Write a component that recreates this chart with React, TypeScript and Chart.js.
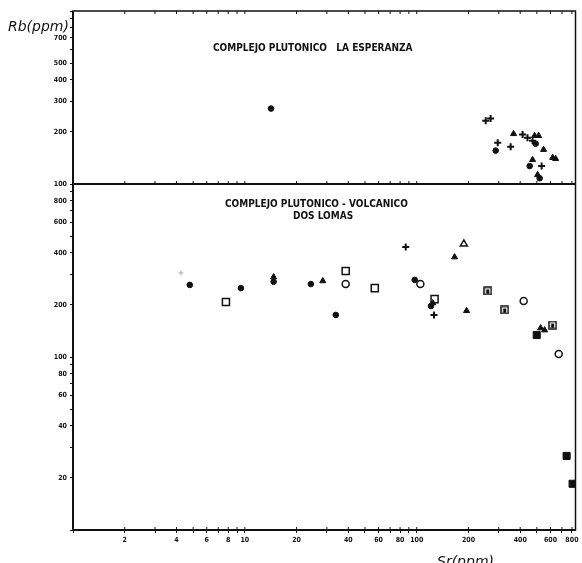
import React, { useEffect, useRef } from 'react';
import { Chart, registerables } from 'chart.js';

Chart.register(...registerables);

// Axis ticks
const xTickValues = [1, 2, 3, 4, 5, 6, 7, 8, 9, 10, 20, 30, 40, 50, 60, 70, 80, 90, 100, 200, 300, 400, 500, 600, 700, 800];
const xTickLabels = [2, 4, 6, 8, 10, 20, 40, 60, 80, 100, 200, 400, 600, 800];
const topTickValues = [100, 200, 300, 400, 500, 600, 700, 800, 900, 1000];
const topTickLabels = [100, 200, 300, 400, 500, 700];
const botTickValues = [10, 20, 30, 40, 50, 60, 70, 80, 90, 100, 200, 300, 400, 500, 600, 700, 800, 900];
const botTickLabels = [20, 40, 60, 80, 100, 200, 400, 600, 800];

// Panel 1: Complejo Plutonico La Esperanza
const esperanzaPlusSr = [252, 269, 296, 352, 413, 441, 472, 533];
const esperanzaPlusRb = [232, 239, 173, 164, 193, 185, 178, 127];
const esperanzaTriSr = [366, 485, 512, 547, 618, 643, 505, 472];
const esperanzaTriRb = [195, 190, 190, 158, 142, 140, 113, 138];
const esperanzaDotSr = [14.2, 288, 492, 454, 519];
const esperanzaDotRb = [273, 156, 171, 127, 108];

// Panel 2: Complejo Plutonico-Volcanico Dos Lomas
const lomasDotSr = [4.78, 9.48, 14.7, 24.2, 33.8, 97.3, 121];
const lomasDotRb = [261, 250, 272, 264, 175, 279, 197];
const lomasTriSr = [14.7, 28.4, 166, 195, 124, 526, 555];
const lomasTriRb = [290, 275, 378, 185, 205, 147, 143];
const lomasOpenTriSr = [188];
const lomasOpenTriRb = [450];
const lomasOpenSquareSr = [7.76, 38.6, 57, 127];
const lomasOpenSquareRb = [208, 314, 250, 216];
const lomasOpenCircleSr = [38.6, 105, 419, 670];
const lomasOpenCircleRb = [264, 264, 211, 104];
const lomasPlusSr = [86.3, 126];
const lomasPlusRb = [432, 175];
const lomasFaintSr = [4.25];
const lomasFaintRb = [306];
const lomasBoxedSr = [259, 325, 618];
const lomasBoxedRb = [241, 187, 153];
const lomasFilledSquareSr = [499, 745, 807];
const lomasFilledSquareRb = [134, 26.8, 18.5];

const pts = (xs: number[], ys: number[]) => xs.map((x, i) => ({ x, y: ys[i] }));

function makeBoxedMarker() {
  const c = document.createElement('canvas');
  c.width = 9;
  c.height = 9;
  const g = c.getContext('2d')!;
  g.strokeStyle = '#111';
  g.lineWidth = 1.5;
  g.strokeRect(1, 1, 7, 7);
  g.fillStyle = '#111';
  g.fillRect(3, 3, 3, 4);
  return c;
}

const tickFont = { family: '"DejaVu Sans Condensed", "DejaVu Sans", sans-serif', size: 7, weight: 'bold' as const };

const framePlugin = {
  id: 'frame',
  afterDraw(chart: any) {
    const { ctx, chartArea, scales } = chart;
    const { left, right, top, bottom } = chartArea;
    const divY = scales.yT.bottom;
    ctx.save();
    ctx.strokeStyle = '#111';
    ctx.lineWidth = 1.5;
    ctx.strokeRect(left, top, right - left, bottom - top);
    ctx.lineWidth = 2;
    ctx.beginPath();
    ctx.moveTo(left, divY);
    ctx.lineTo(right, divY);
    ctx.moveTo(left, top);
    ctx.lineTo(left, bottom);
    ctx.moveTo(left, bottom);
    ctx.lineTo(right, bottom);
    ctx.stroke();
    ctx.lineWidth = 1;
    ctx.beginPath();
    for (const v of xTickValues) {
      const px = scales.x.getPixelForValue(v);
      ctx.moveTo(px, top);
      ctx.lineTo(px, top + 3);
      ctx.moveTo(px, divY);
      ctx.lineTo(px, divY - 3);
      ctx.moveTo(px, bottom);
      ctx.lineTo(px, bottom - 3);
    }
    ctx.stroke();

    ctx.fillStyle = '#111';
    ctx.textBaseline = 'alphabetic';
    ctx.textAlign = 'left';
    ctx.font = 'bold 10px "DejaVu Sans Condensed", "DejaVu Sans", sans-serif';
    ctx.fillText('COMPLEJO PLUTONICO   LA ESPERANZA', left + 140, top + 40);
    ctx.fillText('COMPLEJO PLUTONICO - VOLCANICO', left + 152, divY + 23);
    ctx.fillText('DOS LOMAS', left + 220, divY + 35);

    ctx.font = 'italic 14px "DejaVu Sans", sans-serif';
    ctx.fillText('Rb(ppm)', 8, 31);
    ctx.fillText('Sr(ppm)', 437, 566);
    ctx.restore();
  },
};

export default function App() {
  const ref = useRef<HTMLCanvasElement>(null);

  useEffect(() => {
    const boxed = makeBoxedMarker();
    const black = '#111';
    const chart = new Chart(ref.current!, {
      type: 'scatter',
      data: {
        datasets: [
          { data: pts(esperanzaPlusSr, esperanzaPlusRb), yAxisID: 'yT', pointStyle: 'cross', pointRadius: 3.5, borderColor: black, borderWidth: 2 },
          { data: pts(esperanzaTriSr, esperanzaTriRb), yAxisID: 'yT', pointStyle: 'triangle', pointRadius: 3.5, borderColor: black, backgroundColor: black, borderWidth: 1 },
          { data: pts(esperanzaDotSr, esperanzaDotRb), yAxisID: 'yT', pointStyle: 'circle', pointRadius: 2.8, borderColor: black, backgroundColor: black, borderWidth: 1 },
          { data: pts(lomasDotSr, lomasDotRb), yAxisID: 'yB', pointStyle: 'circle', pointRadius: 2.8, borderColor: black, backgroundColor: black, borderWidth: 1 },
          { data: pts(lomasTriSr, lomasTriRb), yAxisID: 'yB', pointStyle: 'triangle', pointRadius: 3.5, borderColor: black, backgroundColor: black, borderWidth: 1 },
          { data: pts(lomasOpenTriSr, lomasOpenTriRb), yAxisID: 'yB', pointStyle: 'triangle', pointRadius: 4, borderColor: black, backgroundColor: '#fff', borderWidth: 1.5 },
          { data: pts(lomasOpenSquareSr, lomasOpenSquareRb), yAxisID: 'yB', pointStyle: 'rect', pointRadius: 5, borderColor: black, backgroundColor: '#fff', borderWidth: 1.5 },
          { data: pts(lomasOpenCircleSr, lomasOpenCircleRb), yAxisID: 'yB', pointStyle: 'circle', pointRadius: 3.5, borderColor: black, backgroundColor: '#fff', borderWidth: 1.5 },
          { data: pts(lomasPlusSr, lomasPlusRb), yAxisID: 'yB', pointStyle: 'cross', pointRadius: 3.5, borderColor: black, borderWidth: 2 },
          { data: pts(lomasFaintSr, lomasFaintRb), yAxisID: 'yB', pointStyle: 'cross', pointRadius: 2.5, borderColor: '#aaa', borderWidth: 1 },
          { data: pts(lomasBoxedSr, lomasBoxedRb), yAxisID: 'yB', pointStyle: boxed as any, pointRadius: 4 },
          { data: pts(lomasFilledSquareSr, lomasFilledSquareRb), yAxisID: 'yB', pointStyle: 'rect', pointRadius: 5, borderColor: black, backgroundColor: black, borderWidth: 1 },
        ],
      },
      options: {
        responsive: false,
        animation: false,
        layout: { padding: { top: 11, right: 4, left: 0, bottom: 0 } },
        plugins: { legend: { display: false }, tooltip: { enabled: false } },
        scales: {
          x: {
            type: 'logarithmic',
            min: 1,
            max: 839,
            position: 'bottom',
            afterBuildTicks: (s: any) => { s.ticks = xTickValues.map((v) => ({ value: v })); },
            afterFit: (s: any) => { s.height = 33; s.paddingLeft = 0; s.paddingRight = 0; },
            ticks: {
              autoSkip: false,
              maxRotation: 0,
              minRotation: 0,
              padding: 3,
              color: '#111',
              font: tickFont,
              callback: (v: any) => (xTickLabels.includes(Number(v)) ? String(v) : ''),
            },
            grid: { drawOnChartArea: false, tickLength: 3, color: '#111' },
            border: { display: false },
          },
          yB: {
            type: 'logarithmic',
            min: 10,
            max: 1000,
            position: 'left',
            stack: 'rb',
            stackWeight: 2,
            afterBuildTicks: (s: any) => { s.ticks = botTickValues.map((v) => ({ value: v })); },
            afterFit: (s: any) => { s.width = 73; s.paddingTop = 0; s.paddingBottom = 0; },
            ticks: {
              autoSkip: false,
              padding: 3,
              color: '#111',
              font: tickFont,
              callback: (v: any) => (botTickLabels.includes(Number(v)) ? String(v) : ''),
            },
            grid: { drawOnChartArea: false, tickLength: 3, color: '#111' },
            border: { display: false },
          },
          yT: {
            type: 'logarithmic',
            min: 100,
            max: 1000,
            position: 'left',
            stack: 'rb',
            stackWeight: 1,
            afterBuildTicks: (s: any) => { s.ticks = topTickValues.map((v) => ({ value: v })); },
            afterFit: (s: any) => { s.width = 73; s.paddingTop = 0; s.paddingBottom = 0; },
            ticks: {
              autoSkip: false,
              padding: 3,
              color: '#111',
              font: tickFont,
              callback: (v: any) => (topTickLabels.includes(Number(v)) ? String(v) : ''),
            },
            grid: { drawOnChartArea: false, tickLength: 3, color: '#111' },
            border: { display: false },
          },
        },
      } as any,
      plugins: [framePlugin],
    });
    return () => chart.destroy();
  }, []);

  return (
    <div style={{ position: 'fixed', left: 0, top: 0, width: 582, height: 563, background: '#fff' }}>
      <canvas ref={ref} width={582} height={563} style={{ display: 'block' }} />
    </div>
  );
}
